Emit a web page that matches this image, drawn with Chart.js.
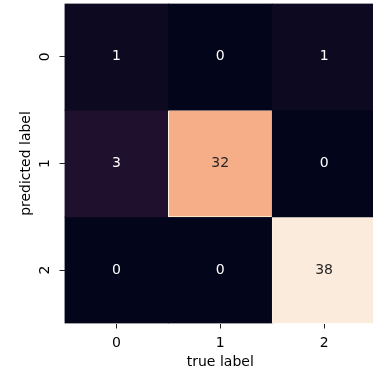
<!DOCTYPE html>
<html>
<head>
<meta charset="utf-8">
<script src="https://cdn.jsdelivr.net/npm/chart.js@4"></script>
<style>
  html, body { margin: 0; padding: 0; background: #ffffff; overflow: hidden; }
  #wrap { width: 373px; height: 374px; overflow: hidden; position: relative; }
  canvas { display: block; }
</style>
</head>
<body>
<div id="wrap"><canvas id="c" width="380" height="374" style="width:380px;height:374px"></canvas></div>
<script>
// ---- data ----
const trueLabels = ['0', '1', '2'];        // x categories (columns)
const predictedLabels = ['0', '1', '2'];   // y categories (rows)
const rowPred0 = [1, 0, 1];
const rowPred1 = [3, 32, 0];
const rowPred2 = [0, 0, 38];
const matrixRows = [rowPred0, rowPred1, rowPred2];

// ---- rocket colormap (seaborn) approximation ----
const rocketStops = [
  [0.000, [3, 5, 26]],
  [0.143, [53, 25, 62]],
  [0.286, [112, 31, 87]],
  [0.429, [173, 23, 89]],
  [0.571, [225, 51, 66]],
  [0.714, [243, 118, 81]],
  [0.857, [246, 180, 143]],
  [1.000, [250, 235, 221]]
];
function rocket(t) {
  t = Math.max(0, Math.min(1, t));
  for (let i = 1; i < rocketStops.length; i++) {
    const [t1, c1] = rocketStops[i];
    const [t0, c0] = rocketStops[i - 1];
    if (t <= t1) {
      const f = (t - t0) / (t1 - t0);
      return c0.map((v, k) => Math.round(v + (c1[k] - v) * f));
    }
  }
  return rocketStops[rocketStops.length - 1][1];
}
const allVals = matrixRows.flat();
const vmin = Math.min(...allVals), vmax = Math.max(...allVals);
function cellRGB(v) { return rocket((v - vmin) / (vmax - vmin)); }
function rgbStr(c) { return 'rgb(' + c[0] + ',' + c[1] + ',' + c[2] + ')'; }
function lum(c) {
  const l = c.map(v => { v = v / 255; return v <= 0.03928 ? v / 12.92 : Math.pow((v + 0.055) / 1.055, 2.4); });
  return 0.2126 * l[0] + 0.7152 * l[1] + 0.0722 * l[2];
}

const FONT = "'DejaVu Sans', 'Liberation Sans', sans-serif";

const datasets = matrixRows.map((row, r) => ({
  label: 'row ' + predictedLabels[r],
  data: row.map(() => [r, r + 1]),
  backgroundColor: row.map(v => rgbStr(cellRGB(v))),
  borderColor: row.map(v => lum(cellRGB(v)) > 0.408 ? 'rgba(255,244,222,1)' : rgbStr(cellRGB(v))),
  borderWidth: row.map(v => lum(cellRGB(v)) > 0.408 ? 1 : 0),
  borderSkipped: false,
  grouped: false,
  barPercentage: 1,
  categoryPercentage: 1
}));

const annotPlugin = {
  id: 'annot',
  afterDatasetsDraw(chart) {
    const ctx = chart.ctx;
    ctx.save();
    ctx.font = '14px ' + FONT;
    ctx.textAlign = 'center';
    ctx.textBaseline = 'middle';
    matrixRows.forEach((row, r) => {
      const meta = chart.getDatasetMeta(r);
      meta.data.forEach((bar, j) => {
        const v = row[j];
        const c = cellRGB(v);
        ctx.fillStyle = lum(c) > 0.408 ? '#262626' : '#ffffff';
        ctx.fillText(String(v), bar.x, (bar.y + bar.base) / 2);
      });
    });
    ctx.restore();
  },
  afterDraw(chart) {
    // rotated y tick labels (matplotlib style, rotation 90)
    const ys = chart.scales.y;
    const ctx = chart.ctx;
    ctx.save();
    ctx.font = '14px ' + FONT;
    ctx.fillStyle = '#000000';
    ctx.textAlign = 'center';
    ctx.textBaseline = 'middle';
    ys.ticks.forEach((t, k) => {
      const py = ys.getPixelForValue(t.value);
      ctx.save();
      ctx.translate(chart.chartArea.left - 19.5, py);
      ctx.rotate(-Math.PI / 2);
      ctx.fillText(predictedLabels[k], 0, 0);
      ctx.restore();
    });
    ctx.restore();
  }
};

new Chart(document.getElementById('c'), {
  type: 'bar',
  data: { labels: trueLabels, datasets: datasets },
  options: {
    responsive: false,
    animation: false,
    events: [],
    layout: { padding: { top: 3.5, right: 4, left: 0, bottom: 0 } },
    plugins: { legend: { display: false }, tooltip: { enabled: false }, title: { display: false } },
    scales: {
      x: {
        type: 'category',
        offset: true,
        grid: { display: true, drawOnChartArea: false, drawTicks: true, tickLength: 5, tickWidth: 1, tickColor: '#222', offset: false },
        border: { display: false },
        ticks: { color: '#000', font: { family: FONT, size: 14 }, padding: 6.5, maxRotation: 0, minRotation: 0 },
        title: { display: true, text: 'true label', color: '#000', font: { family: FONT, size: 14 }, padding: { top: 0, bottom: 3.6 } },
        afterFit(s) { s.height = 50.5; }
      },
      y: {
        type: 'linear',
        min: 0,
        max: 3,
        reverse: true,
        afterBuildTicks(s) { s.ticks = predictedLabels.map((_, k) => ({ value: k + 0.5 })); },
        grid: { display: true, drawOnChartArea: false, drawTicks: true, tickLength: 5, tickWidth: 1, tickColor: '#222' },
        border: { display: false },
        ticks: { display: false },
        title: { display: true, text: 'predicted label', color: '#000', font: { family: FONT, size: 14 }, padding: { top: 17.6, bottom: 0 } },
        afterFit(s) { s.width = 64.5; }
      }
    }
  },
  plugins: [annotPlugin]
});
</script>
</body>
</html>
